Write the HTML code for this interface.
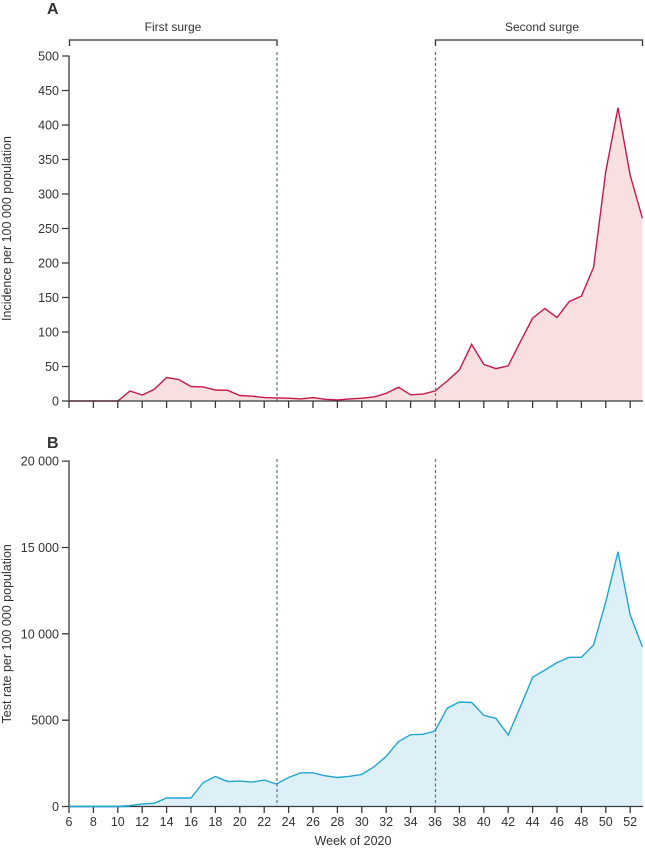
<!DOCTYPE html>
<html><head><meta charset="utf-8"><style>
html,body{margin:0;padding:0;background:#fff;}
svg{display:block;font-family:"Liberation Sans",sans-serif;}
</style></head><body>
<svg width="645" height="848" viewBox="0 0 645 848" xmlns="http://www.w3.org/2000/svg">
<!-- Panel labels -->
<text x="47" y="14" font-size="16" font-weight="bold" fill="#333">A</text>
<text x="47" y="448" font-size="16" font-weight="bold" fill="#333">B</text>

<!-- Brackets -->
<g stroke="#333" stroke-width="1.3" fill="none">
<path d="M69.5,46 V40 H277 V46"/>
<path d="M435.5,46 V40 H642.5 V46"/>
</g>
<text x="173" y="31" font-size="12" fill="#333" text-anchor="middle">First surge</text>
<text x="542" y="31" font-size="12" fill="#333" text-anchor="middle">Second surge</text>

<!-- Panel A fill & line -->
<path fill="#f8dfe0" stroke="none" d="M69,401 L69,401 L81.2,401 L93.4,401 L105.6,401 L117.8,401 L130,391.0 L142.2,395.0 L154.4,389.3 L166.6,377.5 L178.8,379.6 L191,386.5 L203.2,386.9 L215.4,390.0 L227.6,390.3 L239.8,395.5 L252,396.2 L264.2,397.6 L276.4,397.9 L288.6,398.2 L300.8,398.9 L313,397.6 L325.2,399.3 L337.4,400.0 L349.6,398.9 L361.8,398.2 L374,396.9 L386.2,393.4 L398.4,387.2 L410.6,394.8 L422.8,394.1 L435,391.0 L447.2,381.0 L459.4,369.9 L471.6,344.4 L483.8,364.4 L496,368.6 L508.2,365.8 L520.4,341.7 L532.6,318.2 L544.8,308.5 L557,317.5 L569.2,301.6 L581.4,296.1 L593.6,267.1 L605.8,171.2 L618,107.8 L630.2,175.4 L642.4,218.2 L642.4,401 Z"/>
<path fill="none" stroke="#c8184a" stroke-width="1.4" stroke-linejoin="miter" d="M69,401 L81.2,401 L93.4,401 L105.6,401 L117.8,401 L130,391.0 L142.2,395.0 L154.4,389.3 L166.6,377.5 L178.8,379.6 L191,386.5 L203.2,386.9 L215.4,390.0 L227.6,390.3 L239.8,395.5 L252,396.2 L264.2,397.6 L276.4,397.9 L288.6,398.2 L300.8,398.9 L313,397.6 L325.2,399.3 L337.4,400.0 L349.6,398.9 L361.8,398.2 L374,396.9 L386.2,393.4 L398.4,387.2 L410.6,394.8 L422.8,394.1 L435,391.0 L447.2,381.0 L459.4,369.9 L471.6,344.4 L483.8,364.4 L496,368.6 L508.2,365.8 L520.4,341.7 L532.6,318.2 L544.8,308.5 L557,317.5 L569.2,301.6 L581.4,296.1 L593.6,267.1 L605.8,171.2 L618,107.8 L630.2,175.4 L642.4,218.2"/>

<!-- Panel B fill & line -->
<path fill="#ddeff7" stroke="none" d="M69,806.5 L81.2,806.5 L93.4,806.5 L105.6,806.5 L117.8,806.5 L130,805.6 L142.2,804.1 L154.4,803.2 L166.6,798.0 L178.8,798.0 L191,798.0 L203.2,782.5 L215.4,776.5 L227.6,781.5 L239.8,781.1 L252,782.1 L264.2,780.1 L276.4,784.0 L288.6,777.5 L300.8,772.8 L313,772.8 L325.2,775.8 L337.4,777.5 L349.6,776.3 L361.8,774.4 L374,766.8 L386.2,756.4 L398.4,741.7 L410.6,734.7 L422.8,734.3 L435,731.0 L447.2,708.2 L459.4,702.0 L471.6,702.5 L483.8,715.3 L496,718.4 L508.2,735.0 L520.4,706.7 L532.6,677.3 L544.8,670.1 L557,662.6 L569.2,657.3 L581.4,657.3 L593.6,645.0 L605.8,601.7 L618,551.8 L630.2,615.0 L642.4,646.8 L642.4,806.5 Z"/>
<path fill="none" stroke="#20a6d2" stroke-width="1.4" d="M69,806.5 L81.2,806.5 L93.4,806.5 L105.6,806.5 L117.8,806.5 L130,805.6 L142.2,804.1 L154.4,803.2 L166.6,798.0 L178.8,798.0 L191,798.0 L203.2,782.5 L215.4,776.5 L227.6,781.5 L239.8,781.1 L252,782.1 L264.2,780.1 L276.4,784.0 L288.6,777.5 L300.8,772.8 L313,772.8 L325.2,775.8 L337.4,777.5 L349.6,776.3 L361.8,774.4 L374,766.8 L386.2,756.4 L398.4,741.7 L410.6,734.7 L422.8,734.3 L435,731.0 L447.2,708.2 L459.4,702.0 L471.6,702.5 L483.8,715.3 L496,718.4 L508.2,735.0 L520.4,706.7 L532.6,677.3 L544.8,670.1 L557,662.6 L569.2,657.3 L581.4,657.3 L593.6,645.0 L605.8,601.7 L618,551.8 L630.2,615.0 L642.4,646.8"/>

<!-- Dashed lines -->
<g stroke="#5a7482" stroke-width="1.2" stroke-dasharray="3,2.5" fill="none">
<path d="M277,52 V401"/>
<path d="M435.5,52 V401"/>
<path d="M277,459 V806"/>
<path d="M435.5,459 V806"/>
</g>

<!-- Axes A -->
<g stroke="#3a3a3a" stroke-width="1.3" fill="none">
<path d="M69,55.5 V401 H643"/>
<path d="M62,56 H69 M62,90.5 H69 M62,125 H69 M62,159.5 H69 M62,194 H69 M62,228.5 H69 M62,263 H69 M62,297.5 H69 M62,332 H69 M62,366.5 H69 M62,401 H69"/>
<path d="M69,401 V408 M93.4,401 V408 M117.8,401 V408 M142.2,401 V408 M166.6,401 V408 M191,401 V408 M215.4,401 V408 M239.8,401 V408 M264.2,401 V408 M288.6,401 V408 M313,401 V408 M337.4,401 V408 M361.8,401 V408 M386.2,401 V408 M410.6,401 V408 M435,401 V408 M459.4,401 V408 M483.8,401 V408 M508.2,401 V408 M532.6,401 V408 M557,401 V408 M581.4,401 V408 M605.8,401 V408 M630.2,401 V408"/>
</g>
<g font-size="12.5" fill="#333" text-anchor="end">
<text x="59" y="60.5">500</text>
<text x="59" y="95">450</text>
<text x="59" y="129.5">400</text>
<text x="59" y="164">350</text>
<text x="59" y="198.5">300</text>
<text x="59" y="233">250</text>
<text x="59" y="267.5">200</text>
<text x="59" y="302">150</text>
<text x="59" y="336.5">100</text>
<text x="59" y="371">50</text>
<text x="59" y="405.5">0</text>
</g>
<text transform="translate(11,228.5) rotate(-90)" font-size="12.5" fill="#333" text-anchor="middle">Incidence per 100 000 population</text>

<!-- Axes B -->
<g stroke="#3a3a3a" stroke-width="1.3" fill="none">
<path d="M69,460.5 V806.5 H643"/>
<path d="M62,461.1 H69 M62,547.5 H69 M62,633.8 H69 M62,720.2 H69 M62,806.5 H69"/>
<path d="M69,806.5 V813 M93.4,806.5 V813 M117.8,806.5 V813 M142.2,806.5 V813 M166.6,806.5 V813 M191,806.5 V813 M215.4,806.5 V813 M239.8,806.5 V813 M264.2,806.5 V813 M288.6,806.5 V813 M313,806.5 V813 M337.4,806.5 V813 M361.8,806.5 V813 M386.2,806.5 V813 M410.6,806.5 V813 M435,806.5 V813 M459.4,806.5 V813 M483.8,806.5 V813 M508.2,806.5 V813 M532.6,806.5 V813 M557,806.5 V813 M581.4,806.5 V813 M605.8,806.5 V813 M630.2,806.5 V813"/>
</g>
<path d="M69,806.5 H130" stroke="#20a6d2" stroke-width="1.4" fill="none"/>
<g font-size="12.5" fill="#333" text-anchor="end">
<text x="59" y="465.6">20 000</text>
<text x="59" y="552">15 000</text>
<text x="59" y="638.3">10 000</text>
<text x="59" y="724.7">5000</text>
<text x="59" y="811">0</text>
</g>
<text transform="translate(11,633.8) rotate(-90)" font-size="12.5" fill="#333" text-anchor="middle">Test rate per 100 000 population</text>
<g font-size="12.5" fill="#333" text-anchor="middle">
<text x="69" y="826">6</text>
<text x="93.4" y="826">8</text>
<text x="117.8" y="826">10</text>
<text x="142.2" y="826">12</text>
<text x="166.6" y="826">14</text>
<text x="191" y="826">16</text>
<text x="215.4" y="826">18</text>
<text x="239.8" y="826">20</text>
<text x="264.2" y="826">22</text>
<text x="288.6" y="826">24</text>
<text x="313" y="826">26</text>
<text x="337.4" y="826">28</text>
<text x="361.8" y="826">30</text>
<text x="386.2" y="826">32</text>
<text x="410.6" y="826">34</text>
<text x="435" y="826">36</text>
<text x="459.4" y="826">38</text>
<text x="483.8" y="826">40</text>
<text x="508.2" y="826">42</text>
<text x="532.6" y="826">44</text>
<text x="557" y="826">46</text>
<text x="581.4" y="826">48</text>
<text x="605.8" y="826">50</text>
<text x="630.2" y="826">52</text>
</g>
<text x="353" y="845" font-size="12.5" fill="#333" text-anchor="middle">Week of 2020</text>
</svg>
</body></html>
